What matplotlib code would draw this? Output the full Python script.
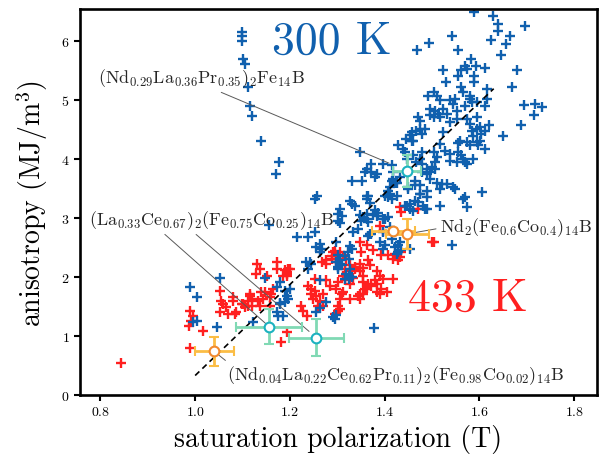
import matplotlib
matplotlib.use("Agg")
import matplotlib.pyplot as plt

plt.rcParams['font.family'] = 'serif'
plt.rcParams['font.serif'] = ['cmr10']
plt.rcParams['mathtext.fontset'] = 'cm'
plt.rcParams['axes.formatter.use_mathtext'] = True

# ---------------- data ----------------
blue = [
    (1.099, 6.15), (1.099, 6.09), (1.098, 6.00), (1.100, 5.69), (1.105, 5.61), (1.112, 5.22),
    (1.115, 4.90), (1.121, 4.73), (1.138, 4.31), (1.177, 3.94), (1.170, 3.75), (1.257, 3.38),
    (1.253, 3.32), (1.156, 2.88), (1.215, 2.68), (1.238, 2.68), (1.253, 2.76), (1.263, 2.56),
    (1.267, 2.47), (1.242, 2.26), (1.147, 1.99), (1.179, 1.91), (1.172, 1.83), (1.196, 1.63),
    (1.189, 1.77), (1.052, 1.99), (0.990, 1.83), (1.004, 1.66), (1.003, 1.26), (0.996, 1.23),
    (1.046, 1.16), (1.122, 1.23), (1.172, 1.40), (1.175, 1.34), (1.256, 1.40), (1.263, 1.47),
    (1.277, 1.57), (1.291, 1.32), (1.179, 1.54), (1.189, 1.57), (1.186, 1.34), (1.378, 1.13),
    (1.295, 1.29), (1.298, 1.35),
    (1.589, 6.49), (1.629, 6.42), (1.640, 6.29), (1.640, 6.17), (1.696, 6.25), (1.664, 6.09),
    (1.624, 6.02), (1.657, 5.95), (1.646, 5.76), (1.541, 6.08), (1.494, 5.96), (1.469, 5.84),
    (1.555, 5.84), (1.583, 5.69), (1.569, 5.58), (1.573, 5.53), (1.562, 5.50), (1.593, 5.58),
    (1.612, 5.54), (1.522, 5.51), (1.529, 5.31), (1.555, 5.40), (1.589, 5.41), (1.589, 5.31),
    (1.679, 5.51), (1.668, 5.22), (1.615, 5.19), (1.561, 5.22), (1.566, 5.13), (1.580, 5.07),
    (1.492, 5.07), (1.503, 5.13), (1.510, 5.07), (1.517, 4.99), (1.538, 4.99), (1.548, 5.02),
    (1.545, 4.93), (1.580, 5.02), (1.584, 4.96), (1.594, 4.96), (1.615, 5.02), (1.612, 4.90),
    (1.569, 4.90), (1.552, 4.82), (1.495, 4.85), (1.506, 4.82), (1.513, 4.76), (1.524, 4.85),
    (1.471, 4.71), (1.474, 4.65), (1.495, 4.74), (1.503, 4.71), (1.517, 4.71), (1.531, 4.76),
    (1.538, 4.62), (1.552, 4.68), (1.573, 4.68), (1.580, 4.59), (1.594, 4.71), (1.601, 4.54),
    (1.621, 4.58), (1.695, 4.92), (1.717, 4.93), (1.731, 4.88), (1.715, 4.75), (1.687, 4.58),
    (1.650, 4.38), (1.612, 4.48), (1.594, 4.51), (1.584, 4.48), (1.587, 4.39), (1.604, 4.42),
    (1.601, 4.31), (1.594, 4.28), (1.597, 4.23), (1.612, 4.17), (1.559, 4.31), (1.555, 4.27),
    (1.573, 4.28), (1.580, 4.23), (1.524, 4.45), (1.457, 4.45), (1.466, 4.48), (1.474, 4.51),
    (1.457, 4.31), (1.453, 4.40), (1.429, 4.23), (1.439, 4.17), (1.443, 4.11), (1.478, 4.11),
    (1.460, 4.06), (1.503, 4.11), (1.510, 4.03), (1.506, 3.94), (1.538, 4.08), (1.555, 4.11),
    (1.566, 4.00), (1.573, 3.92), (1.569, 3.94), (1.587, 4.00), (1.348, 4.11), (1.372, 3.92),
    (1.362, 3.83), (1.358, 3.77), (1.397, 3.92), (1.415, 3.89), (1.330, 3.62), (1.353, 3.63),
    (1.372, 3.77), (1.379, 3.69), (1.383, 3.75), (1.418, 3.77), (1.415, 3.63), (1.422, 3.60),
    (1.464, 3.63), (1.464, 3.55), (1.478, 3.77), (1.489, 3.75), (1.495, 3.66), (1.467, 3.94),
    (1.499, 3.86), (1.506, 3.83), (1.520, 3.58), (1.545, 3.52), (1.548, 3.49), (1.605, 3.44),
    (1.450, 3.49), (1.362, 3.38), (1.411, 3.41), (1.425, 3.38), (1.474, 3.41), (1.489, 3.35),
    (1.569, 3.35),
    (1.445, 4.34), (1.460, 4.31), (1.479, 4.42), (1.485, 4.51), (1.517, 4.25), (1.527, 4.14),
    (1.474, 4.00), (1.478, 3.92), (1.446, 4.00), (1.489, 3.83), (1.495, 3.77), (1.418, 3.66),
    (1.425, 3.60), (1.432, 3.69), (1.411, 3.52), (1.408, 3.46), (1.450, 3.52), (1.474, 3.55),
    (1.489, 3.46), (1.474, 3.41), (1.510, 3.60), (1.517, 3.49), (1.531, 3.58), (1.538, 3.97),
    (1.552, 3.94), (1.562, 4.06), (1.566, 3.32), (1.573, 3.18), (1.517, 3.21), (1.485, 3.15),
    (1.464, 3.29), (1.401, 3.38), (1.408, 3.35), (1.415, 3.32), (1.365, 3.38), (1.362, 3.32),
    (1.369, 3.26), (1.326, 3.29), (1.330, 3.23), (1.337, 3.20), (1.305, 3.15), (1.302, 3.07),
    (1.309, 3.04), (1.362, 3.07), (1.379, 3.13), (1.383, 3.04), (1.351, 2.95), (1.365, 2.93),
    (1.397, 2.98), (1.408, 3.01), (1.446, 3.21), (1.453, 3.15), (1.333, 2.76), (1.369, 2.73),
    (1.302, 2.95), (1.256, 2.50), (1.263, 2.42), (1.234, 2.25), (1.245, 2.22), (1.238, 2.13),
    (1.298, 2.25), (1.305, 2.22), (1.302, 2.13), (1.316, 2.36), (1.323, 2.42), (1.263, 1.94),
    (1.319, 2.05), (1.316, 1.97), (1.200, 1.80), (1.193, 1.68), (1.179, 1.56), (1.305, 2.92),
    (1.348, 3.05), (1.355, 3.02), (1.362, 2.98), (1.376, 3.05), (1.386, 3.08), (1.344, 2.81),
    (1.365, 2.70), (1.372, 2.73), (1.326, 2.52), (1.330, 2.47), (1.298, 2.59), (1.390, 2.59),
    (1.401, 2.54), (1.397, 2.47), (1.429, 2.54), (1.435, 2.45), (1.429, 2.42), (1.411, 2.84),
    (1.401, 2.98), (1.453, 2.47), (1.443, 3.21), (1.453, 3.23), (1.460, 3.12), (1.471, 3.27),
    (1.481, 3.21), (1.489, 3.15), (1.305, 2.28), (1.309, 2.20), (1.302, 2.17), (1.324, 2.02),
    (1.331, 2.00), (1.324, 1.97), (1.541, 2.54), (1.397, 2.76), (1.415, 2.64), (1.432, 2.59),
    (1.422, 2.50), (1.425, 2.39), (1.324, 2.31), (1.326, 2.14), (1.302, 2.37),
]
red = [
    (0.843, 0.55), (0.990, 0.79), (0.987, 1.17), (0.992, 1.26), (0.996, 1.34), (0.989, 1.43),
    (1.017, 1.09), (1.052, 1.77), (1.055, 1.60), (1.059, 1.54), (1.052, 1.40), (1.066, 1.49),
    (1.070, 1.37), (1.084, 1.37), (1.080, 1.66), (1.101, 1.54), (1.105, 1.49), (1.115, 1.71),
    (1.119, 1.63), (1.112, 1.51), (1.140, 1.74), (1.143, 1.63), (1.129, 2.05), (1.172, 2.25),
    (1.196, 2.14), (1.193, 2.05), (1.158, 1.51), (1.194, 1.07), (1.182, 0.89), (1.224, 1.51),
    (1.228, 1.43), (1.235, 1.34), (1.277, 2.28), (1.288, 2.36), (1.298, 2.25), (1.302, 1.51),
    (1.131, 2.22), (1.151, 2.02), (1.189, 2.12), (1.193, 2.02), (1.080, 1.60), (1.161, 1.71),
    (1.087, 1.40), (1.098, 1.54), (1.136, 2.14), (1.172, 2.14), (1.200, 2.14), (1.193, 2.08),
    (1.186, 2.02), (1.165, 1.80), (1.158, 1.66), (1.147, 1.75), (1.115, 1.68), (1.112, 1.60),
    (1.119, 1.51), (1.133, 1.60), (1.136, 1.51), (1.253, 1.97), (1.238, 1.85), (1.245, 1.80),
    (1.253, 1.77), (1.245, 1.71), (1.256, 1.68), (1.249, 1.63), (1.263, 1.60), (1.270, 1.71),
    (1.259, 1.51), (1.270, 1.51), (1.267, 2.25), (1.277, 2.22), (1.288, 2.31), (1.295, 2.44),
    (1.305, 2.42), (1.302, 1.91), (1.298, 1.80), (1.309, 1.71), (1.277, 1.94), (1.284, 1.85),
    (1.326, 1.88), (1.326, 1.63), (1.305, 1.45), (1.432, 3.18), (1.435, 3.10), (1.471, 3.15),
    (1.390, 2.87), (1.397, 2.78), (1.499, 2.59), (1.348, 2.59), (1.351, 2.42), (1.362, 2.54),
    (1.376, 2.45), (1.421, 2.39), (1.428, 2.28), (1.418, 2.31), (1.407, 2.37), (1.393, 2.37),
    (1.291, 2.42), (1.298, 2.36), (1.312, 2.36), (1.319, 2.31), (1.326, 2.20), (1.337, 2.17),
    (1.348, 2.22), (1.316, 2.14), (1.326, 2.10), (1.337, 2.14), (1.348, 2.10), (1.355, 2.16),
    (1.365, 2.28), (1.369, 2.20), (1.312, 2.02), (1.326, 1.99), (1.316, 1.94), (1.333, 1.99),
    (1.355, 2.02), (1.355, 1.91), (1.383, 2.10), (1.390, 2.02), (1.379, 1.94), (1.383, 1.88),
    (1.397, 1.97), (1.418, 1.97), (1.365, 1.88), (1.362, 1.82), (1.372, 1.85), (1.348, 1.71),
    (1.355, 1.71), (1.344, 1.68), (1.348, 1.63), (1.358, 1.80), (1.383, 1.74), (1.390, 1.71),
    (1.404, 1.74), (1.393, 1.80), (1.312, 1.74), (1.305, 1.63), (1.295, 1.37), (1.302, 1.42),
    (1.503, 2.59), (1.435, 2.42), (1.432, 2.34),
]
blue_x = [p[0] for p in blue]
blue_y = [p[1] for p in blue]
red_x = [p[0] for p in red]
red_y = [p[1] for p in red]

# measured compounds (teal) and (orange)
teal_x = [1.447, 1.156, 1.256]
teal_y = [3.80, 1.16, 0.97]
teal_xerr = [0.030, 0.069, 0.058]
teal_yerr = [0.27, 0.29, 0.31]

orange_x = [1.040, 1.418, 1.448]
orange_y = [0.74, 2.78, 2.73]
orange_xerr = [0.041, 0.045, 0.046]
orange_yerr = [0.25, 0.05, 0.26]

fit_x = [1.0, 1.63]
fit_y = [0.33, 5.19]

labels = [
    r"$(\mathrm{Nd}_{0.29}\mathrm{La}_{0.36}\mathrm{Pr}_{0.35})_2\mathrm{Fe}_{14}\mathrm{B}$",
    r"$(\mathrm{La}_{0.33}\mathrm{Ce}_{0.67})_2(\mathrm{Fe}_{0.75}\mathrm{Co}_{0.25})_{14}\mathrm{B}$",
    r"$(\mathrm{Nd}_{0.04}\mathrm{La}_{0.22}\mathrm{Ce}_{0.62}\mathrm{Pr}_{0.11})_2(\mathrm{Fe}_{0.98}\mathrm{Co}_{0.02})_{14}\mathrm{B}$",
    r"$\mathrm{Nd}_2(\mathrm{Fe}_{0.6}\mathrm{Co}_{0.4})_{14}\mathrm{B}$",
]

BLUE = '#1060ae'
RED = '#ff2020'
TEAL_BAR = '#80d9b4'
TEAL_MK = '#1cb2c0'
ORANGE_BAR = '#fbbd45'
ORANGE_MK = '#f28a2e'

# ---------------- figure ----------------
fig = plt.figure(figsize=(6.01, 4.56), dpi=100)
ax = fig.add_axes([80/601, 1-396/456, (597-80)/601, (396-10)/456])

ax.plot(red_x, red_y, ls='none', marker='+', ms=6.5, mew=1.7, color=RED, zorder=2)
ax.plot(blue_x, blue_y, ls='none', marker='+', ms=6.5, mew=1.7, color=BLUE, zorder=2)

ax.plot(fit_x, fit_y, color='black', lw=1.2, ls=(0, (3.5, 2.5)), zorder=3)

ax.errorbar(teal_x, teal_y, xerr=teal_xerr, yerr=teal_yerr, fmt='o', ms=7,
            mfc='white', mec=TEAL_MK, mew=1.5, ecolor=TEAL_BAR, elinewidth=2,
            capsize=3.5, capthick=2, zorder=5)
ax.errorbar(orange_x, orange_y, xerr=orange_xerr, yerr=orange_yerr, fmt='o', ms=7,
            mfc='white', mec=ORANGE_MK, mew=1.5, ecolor=ORANGE_BAR, elinewidth=2,
            capsize=3.5, capthick=2, zorder=5)

ax.text(1.289, 6.0, "300 K", color=BLUE, fontsize=33, ha='center', va='center')
ax.text(1.576, 1.64, "433 K", color=RED, fontsize=33, ha='center', va='center')

line_kw = dict(arrowstyle='-', color='0.35', lw=0.7)
ax.annotate(labels[0], xy=(teal_x[0], teal_y[0]), xytext=(0.794, 5.30),
            ha='left', va='baseline', fontsize=13, color='0.15',
            arrowprops=dict(line_kw, shrinkA=1, shrinkB=14, relpos=(0.56, 0.0)))
ax.annotate(labels[1], xy=(teal_x[1], teal_y[1]), xytext=(0.777, 2.90),
            ha='left', va='baseline', fontsize=13, color='0.15',
            arrowprops=dict(line_kw, shrinkA=1, shrinkB=3, relpos=(0.29, 0.0)))
ax.annotate("", xy=(teal_x[2], teal_y[2]), xytext=(1.002, 2.72),
            arrowprops=dict(line_kw, shrinkA=0, shrinkB=7))
ax.annotate(labels[2], xy=(orange_x[0], orange_y[0]), xytext=(1.067, 0.27),
            ha='left', va='baseline', fontsize=13, color='0.15',
            arrowprops=dict(line_kw, shrinkA=0, shrinkB=4, relpos=(0.01, 0.95)))
ax.annotate(labels[3], xy=(orange_x[2], orange_y[2]), xytext=(1.517, 2.77),
            ha='left', va='baseline', fontsize=13, color='0.15',
            arrowprops=dict(line_kw, shrinkA=1, shrinkB=4, relpos=(0.0, 0.45)))

ax.set_xlim(0.757, 1.848)
ax.set_ylim(0.0, 6.54)
ax.set_xticks([0.8, 1.0, 1.2, 1.4, 1.6, 1.8])
ax.set_yticks([0, 1, 2, 3, 4, 5, 6])
ax.tick_params(labelsize=10, width=1.5, length=4)
for s in ax.spines.values():
    s.set_linewidth(1.9)

ax.set_xlabel("saturation polarization (T)", fontsize=20, labelpad=4)
ax.set_ylabel(r"anisotropy (MJ/m$^3$)", fontsize=20, labelpad=8)

fig.savefig("out.png", dpi=100)
